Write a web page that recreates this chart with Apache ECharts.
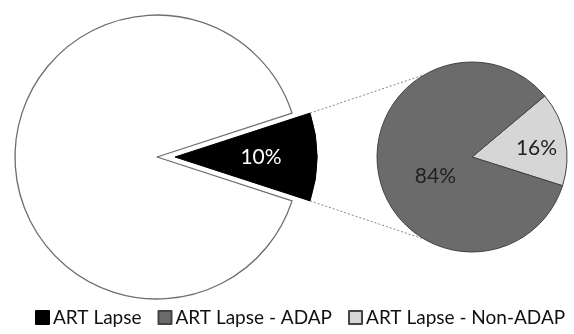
<!DOCTYPE html>
<html>
<head>
<meta charset="utf-8">
<script src="https://cdn.jsdelivr.net/npm/echarts@6/dist/echarts.min.js"></script>
<style>
  html, body { margin: 0; padding: 0; background: #fff; }
  #main { width: 574px; height: 334px; }
</style>
</head>
<body>
<div id="main"></div>
<script>
// main pie: the lapse share vs. the rest
var mainNames = ['ART Lapse', 'Other'];
var mainValues = [10, 90];
// breakdown pie, in drawing order (clockwise from start angle)
var subNames = ['ART Lapse - Non-ADAP', 'ART Lapse - ADAP'];
var subValues = [16, 84];
var legendNames = ['ART Lapse', 'ART Lapse - ADAP', 'ART Lapse - Non-ADAP'];

var FONT = 'Lato, "Open Sans", sans-serif';

var bigC = [157, 157], bigR = 142, explode = 18;
var smallC = [472, 157], smallR = 95;
var halfAng = mainValues[0] / (mainValues[0] + mainValues[1]) * 180; // degrees

var chart = echarts.init(document.getElementById('main'));

// connector lines from exploded slice corners to the breakdown pie
var rad = halfAng * Math.PI / 180;
var tipX = bigC[0] + explode;
var corner = [tipX + bigR * Math.cos(rad), bigR * Math.sin(rad)];
var endA = 120 * Math.PI / 180;
var endP = [smallC[0] + smallR * Math.cos(endA), smallR * Math.sin(endA)];
var dash = { stroke: '#888', lineWidth: 1, lineDash: [2, 2] };

var option = {
    backgroundColor: '#fff',
    animation: false,
    legend: {
        bottom: 2,
        left: 30,
        selectedMode: false,
        icon: 'rect',
        itemWidth: 13,
        itemHeight: 13,
        itemGap: 16,
        data: legendNames,
        textStyle: { fontFamily: FONT, fontSize: 19, color: '#111', padding: [0, 0, 0, -1] }
    },
    graphic: [
        { type: 'line', z: 0, shape: { x1: corner[0], y1: bigC[1] - corner[1], x2: endP[0], y2: smallC[1] - endP[1] }, style: dash },
        { type: 'line', z: 0, shape: { x1: corner[0], y1: bigC[1] + corner[1], x2: endP[0], y2: smallC[1] + endP[1] }, style: dash }
    ],
    series: [
        {
            type: 'pie',
            center: bigC,
            radius: bigR,
            startAngle: halfAng,
            clockwise: true,
            selectedMode: 'single',
            selectedOffset: explode,
            avoidLabelOverlap: false,
            label: {
                show: true,
                position: 'inside',
                formatter: '{d}%',
                fontFamily: FONT,
                fontSize: 21,
                color: '#fff'
            },
            labelLine: { show: false },
            emphasis: { disabled: true },
            data: [
                { name: mainNames[0], value: mainValues[0], selected: true,
                  itemStyle: { color: '#000', borderColor: '#000', borderWidth: 1 },
                  label: { padding: [0, 0, 0, 24] } },
                { name: mainNames[1], value: mainValues[1],
                  itemStyle: { color: '#fff', borderColor: '#6e6e6e', borderWidth: 1.3 },
                  label: { show: false } }
            ]
        },
        {
            type: 'pie',
            center: smallC,
            radius: smallR,
            startAngle: 40,
            clockwise: true,
            avoidLabelOverlap: false,
            label: {
                show: true,
                position: 'inside',
                formatter: '{d}%',
                fontFamily: FONT,
                fontSize: 21,
                color: '#222'
            },
            labelLine: { show: false },
            emphasis: { disabled: true },
            data: [
                { name: subNames[0], value: subValues[0],
                  itemStyle: { color: '#d6d6d6', borderColor: '#444', borderWidth: 1 },
                  label: { offset: [15, 1] } },
                { name: subNames[1], value: subValues[1],
                  itemStyle: { color: '#6b6b6b', borderColor: '#444', borderWidth: 1 },
                  label: { offset: [13, 9] } }
            ]
        }
    ]
};

chart.setOption(option);
</script>
</body>
</html>
